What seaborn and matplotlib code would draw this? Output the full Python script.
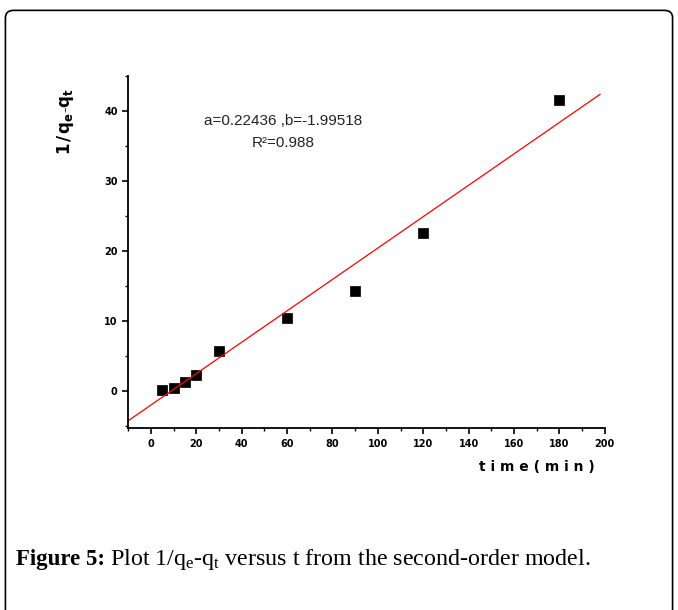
import numpy as np
import pandas as pd
import seaborn as sns
import matplotlib.pyplot as plt
import matplotlib.ticker as ticker
from matplotlib.patches import FancyBboxPatch

# time (min) and 1/(qe-qt)
time_min = [5, 10, 15, 20, 30, 60, 90, 120, 180]
inv_q = [0.2, 0.5, 1.3, 2.3, 5.7, 10.4, 14.3, 22.6, 41.6]
fit_a = 0.22436
fit_b = -1.99518
fit_r2 = 0.988
fit_x = [-10, 198]

df = pd.DataFrame({'t': time_min, 'y': inv_q})
fit_df = pd.DataFrame({'t': fit_x, 'y': [fit_a * x + fit_b for x in fit_x]})

sns.set_style('ticks')
plt.rcParams['mathtext.fontset'] = 'custom'
plt.rcParams['mathtext.rm'] = 'Liberation Serif'
plt.rcParams['mathtext.it'] = 'Liberation Serif:italic'
plt.rcParams['mathtext.bf'] = 'DejaVu Sans:bold'
plt.rcParams['text.color'] = 'black'
plt.rcParams['axes.labelcolor'] = 'black'
plt.rcParams['xtick.color'] = 'black'
plt.rcParams['ytick.color'] = 'black'

fig = plt.figure(figsize=(6.78, 6.10), dpi=100)

# rounded frame around figure + caption
frame = FancyBboxPatch((0.008, -0.05), 0.984, 1.033, boxstyle='round,pad=0,rounding_size=0.012',
                       transform=fig.transFigure, fill=False, edgecolor='black', linewidth=1.2)
fig.patches.append(frame)

ax = fig.add_axes([0.189, 0.298, 0.703, 0.577])
sns.lineplot(data=fit_df, x='t', y='y', ax=ax, color='red', linewidth=0.9)
sns.scatterplot(data=df, x='t', y='y', ax=ax, marker='s', s=42, color='black', edgecolor='black')

ax.set_xlim(-10, 200)
ax.set_ylim(-5.3, 45)
ax.xaxis.set_major_locator(ticker.MultipleLocator(20))
ax.xaxis.set_minor_locator(ticker.MultipleLocator(10))
ax.yaxis.set_minor_locator(ticker.MultipleLocator(5))
ax.set_yticks([0, 10, 20, 30, 40])
ax.tick_params(which='major', direction='out', length=4, width=1.2, labelsize=7)
ax.tick_params(which='minor', direction='out', length=2.5, width=1)
for lab in ax.get_xticklabels() + ax.get_yticklabels():
    lab.set_fontweight('bold')
sns.despine(ax=ax)
for s in ['left', 'bottom']:
    ax.spines[s].set_linewidth(1.3)
    ax.spines[s].set_color('black')

ax.set_xlabel('t i m e ( m i n )', fontsize=10, fontweight='bold')
ax.xaxis.label.set_ha('right')
ax.xaxis.set_label_coords(0.979, -0.09)
ax.set_ylabel(r'$\mathbf{1\,/\,q_e\text{-}q_t}$', fontsize=12)
ax.yaxis.set_label_coords(-0.11, 0.87)

ax.text(0.325, 0.872, 'a=0.22436 ,b=-1.99518', transform=ax.transAxes, ha='center', va='center',
        fontsize=11, color='#222222', family='Liberation Sans')
ax.text(0.325, 0.81, 'R²=0.988', transform=ax.transAxes, ha='center', va='center',
        fontsize=11, color='#222222', family='Liberation Sans')

cap1 = fig.text(0.024, 0.082, 'Figure 5:', fontsize=16.5, fontweight='bold',
                family='Liberation Serif', va='center')
fig.canvas.draw()
bb = cap1.get_window_extent().transformed(fig.transFigure.inverted())
fig.text(bb.x1 + 0.007, 0.082, r'Plot 1/q$_{\rm e}$-q$_{\rm t}$ versus t from the second-order model.',
         fontsize=17.3, family='Liberation Serif', va='center')

fig.savefig('out.png', dpi=100)
